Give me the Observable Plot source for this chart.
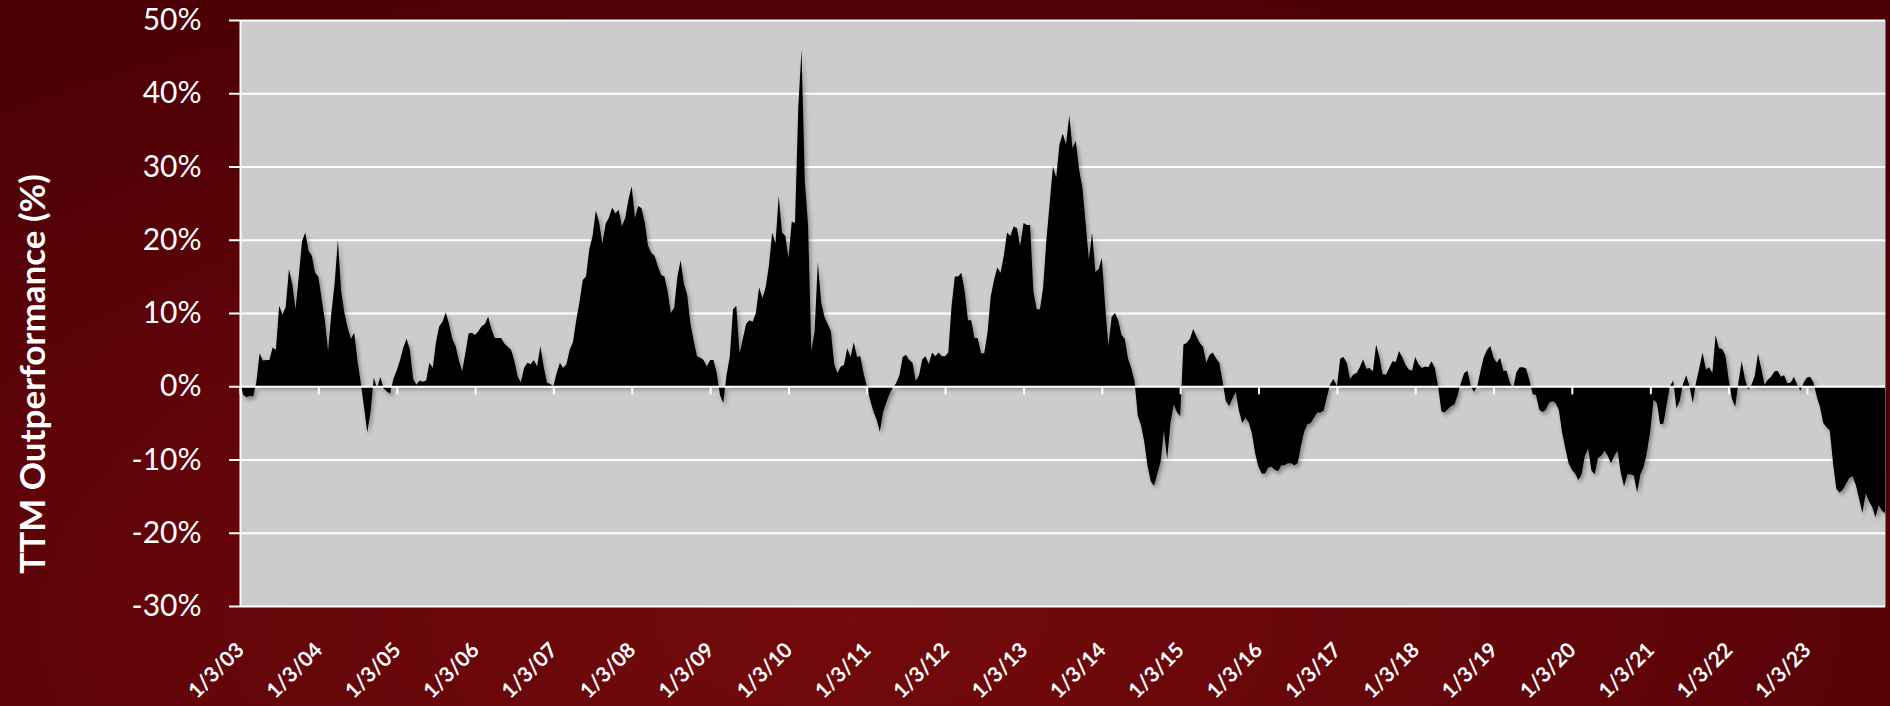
<!DOCTYPE html>
<html>
<head>
<meta charset="utf-8">
<script src="https://cdn.jsdelivr.net/npm/d3@7"></script>
<script src="https://cdn.jsdelivr.net/npm/@observablehq/plot@0.6"></script>
<style>
  html, body { margin: 0; padding: 0; }
  body {
    width: 1890px; height: 706px; overflow: hidden;
    background: radial-gradient(ellipse 75% 95% at 45% 88%, #730a0c 0%, #620509 50%, #4c0006 100%);
  }
  #chart svg { display: block; }
</style>
</head>
<body>
<div id="chart"></div>
<script>
// ---- Data (TTM outperformance, %, read twice a month from 1/3 of each year) ----
const years = [2003,2004,2005,2006,2007,2008,2009,2010,2011,2012,2013,2014,2015,2016,2017,2018,2019,2020,2021,2022,2023];
const v2003 = [0.5,-1.2,-1.5,-1.3,-1.4,0.5,4.5,3.5,3.6,3.6,5.3,5.0,11,9.8,10.8,16,14,10.5,15,19.8,21,18.5,17.8,15.5];
const v2004 = [15,12,9,4.8,10,14,20,13,10,8,6.5,7.3,3.5,0.5,-2.8,-6.3,-3.5,1.2,-0.3,1.3,-0.3,-0.7,-1.0,1.0];
const v2005 = [2.2,3.6,5.3,6.5,5.0,1.0,0.2,0.8,0.6,0.8,3.2,2.5,6.0,8.2,8.8,10.1,8.5,6.5,5.5,3.6,2.0,4.5,7.2,7.3];
const v2006 = [7.0,7.5,8.2,8.5,9.5,7.8,6.6,6.6,6.6,5.8,5.4,5.0,3.5,1.4,0.5,2.5,3.2,3.0,3.6,2.7,5.5,2.7,0.5,0.3];
const v2007 = [0,1.8,3.2,2.5,3.0,5.0,6,9,11.5,14.5,15,18.7,20.5,24,22.4,19.5,22.2,23,24.4,23.6,24.1,21.8,23,25.5];
const v2008 = [27.3,23,24.6,24.3,22.4,19.2,18.2,17.8,16.4,15.2,15,13,10,10.7,14.9,17.2,14,12.5,8.5,6.2,4.1,3.9,3.6,2.7];
const v2009 = [3.6,3.6,1.8,-1.2,-2.3,1.5,4.0,10.5,11,4.5,6.5,8.5,9.0,8.8,10,13.5,12,13.5,16.5,21,19.5,26,21,20.5];
const v2010 = [17.5,22.5,22.3,38,46,28,22,4.8,7.5,17,11.5,9.5,8.5,7.5,3.0,1.8,2.7,2.9,5.2,4.0,6.0,4.0,4.1,1.8];
const v2011 = [0,-1.8,-3.4,-4.5,-6.2,-3.5,-2.2,-1.0,-0.2,0.4,1.5,4.0,4.3,3.6,3.2,0.7,1.5,3.7,4.1,3.0,4.6,4.1,4.6,4.1];
const v2012 = [4.1,4.6,11,15,15,15.5,13,9,9,6.6,6.6,4.5,4.5,7.3,12.3,14.5,16.2,15.5,17.8,21,20.5,21.8,21.6,19.1];
const v2013 = [22.3,22,22,13,10.5,10.5,13.5,20,25,30,28.5,33,34.5,33,37,32.5,33.5,29.6,27.2,22.3,17.3,21,15.6,16];
const v2014 = [17.5,11,5.5,9.5,10,9,7,6.5,3.8,2.5,0.7,-4,-5.3,-7.6,-10.9,-13,-13.6,-11.9,-10.3,-6,-10,-5,-2.5,-3.5];
const v2015 = [-4.1,5.7,5.9,6.5,7.8,6.8,5.9,5.4,3.2,4.3,4.6,3.8,3.2,0.6,-2.0,-2.7,-1.7,-0.8,-3.3,-5,-4.3,-4.9,-6.5,-9.2];
const v2016 = [-11,-11.9,-11.9,-11.1,-11,-11.4,-11.6,-10.8,-10.8,-10.5,-10.5,-10.8,-10.5,-8.2,-6.2,-5.2,-5,-4.3,-3.6,-3.6,-3.3,-1.4,0.3,1.0];
const v2017 = [0,3.8,4.0,3.2,1.0,1.6,1.8,2.6,3.7,2.4,2.5,2.0,5.7,4.0,1.6,1.6,2.5,3.4,3.3,4.8,4.0,2.9,2.3,2.1];
const v2018 = [4.0,3.0,2.5,2.7,2.6,3.4,2.5,0,-3.4,-3.6,-3.1,-2.7,-2.5,-1.2,0.5,1.8,2.1,0,-0.8,0,2.1,4,5,5.5];
const v2019 = [3.9,3.2,3.9,2.1,2.1,0.5,-0.3,1.9,2.6,2.6,2.4,0.8,-1.1,-1.2,-3.2,-3.5,-3.2,-2.3,-2.0,-2.3,-3.2,-6.3,-8.5,-10.5];
const v2020 = [-11.4,-11.9,-12.8,-12,-9.5,-8.5,-11.5,-12,-9.8,-9.5,-8.8,-9.5,-10.5,-9.5,-8.8,-11.8,-13.7,-12,-12,-12.2,-14.5,-12,-11,-9];
const v2021 = [-6,-1.8,-2.3,-5.2,-5.1,-2.5,0,0.8,-3,-2,0.3,1.5,0,-2.3,0.5,2.5,4.6,2.3,2.6,1.8,7,5.2,5.1,4.2];
const v2022 = [1.0,-1.7,-2.8,0.5,3.4,1.0,-0.5,0.2,1.4,4.5,2.4,0.2,0.9,1.3,2.0,2.1,1.3,1.5,0.4,0.5,1.3,0.2,-0.6,0.5];
const v2023 = [1.2,1.3,0.5,-1.4,-2.8,-5.0,-5.6,-6.0,-10.5,-14,-14.5,-14.1,-13.3,-12.5,-12.3,-13.5,-15.4,-17.3,-14.6,-15.7,-16.5,-17.9,-16.2,-17];
const lastDate = "2024-01-02";
const lastValue = -17.3;

const yTicks = [-30, -20, -10, 0, 10, 20, 30, 40, 50];
const tickYears = years; // axis labels 1/3/03 ... 1/3/23
const yTitle = "TTM Outperformance (%)";

// ---- Build table ----
const series = [v2003,v2004,v2005,v2006,v2007,v2008,v2009,v2010,v2011,v2012,v2013,v2014,v2015,v2016,v2017,v2018,v2019,v2020,v2021,v2022,v2023];
const DAY = 86400000;
const data = [];
years.forEach((yr, i) => {
  const n = series[i].length;
  series[i].forEach((v, k) => {
    data.push({date: new Date(Date.UTC(yr, 0, 3) + k * DAY * 365.25 / n), value: v});
  });
});
data.push({date: new Date(lastDate), value: lastValue});

const xTicks = tickYears.map(y => new Date(Date.UTC(y, 0, 3)));
const fmtDate = d => `${d.getUTCMonth() + 1}/${d.getUTCDate()}/${String(d.getUTCFullYear()).slice(2)}`;

const chart = Plot.plot({
  width: 1890,
  height: 706,
  marginLeft: 240,
  marginRight: 5,
  marginTop: 20,
  marginBottom: 100,
  style: {background: "transparent", fontFamily: "Lato, 'Open Sans', sans-serif", color: "white", overflow: "visible"},
  x: {type: "utc", domain: [xTicks[0], new Date(lastDate)]},
  y: {domain: [-30, 50]},
  marks: [
    Plot.frame({fill: "#cccccc", stroke: null}),
    Plot.ruleY(yTicks, {stroke: "white", strokeWidth: 2}),
    Plot.areaY(data, {x: "date", y: "value", fill: "black", curve: "linear"}),
    Plot.ruleY([0], {stroke: "white", strokeWidth: 2}),
    Plot.ruleX(xTicks, {y1: () => 0, y2: () => 0, insetBottom: -8, stroke: "white", strokeWidth: 2}),
    Plot.ruleX([xTicks[0]], {stroke: "white", strokeWidth: 2}),
    Plot.axisY(yTicks, {
      tickFormat: d => `${d}%`, tickSize: 11, tickPadding: 28, strokeWidth: 2,
      fontSize: 30, fill: "white", stroke: "white", label: null
    }),
    Plot.axisX(xTicks, {
      tickFormat: fmtDate, tickRotate: -45, tickSize: 0, tickPadding: 40,
      fontSize: 21, fontWeight: "bold", fill: "white", label: null
    })
  ]
});

document.getElementById("chart").appendChild(chart);

const areaG = chart.querySelector('g[aria-label="area"]');
if (areaG) areaG.style.filter = "drop-shadow(2px 3px 2px rgba(0,0,0,0.35))";

d3.select(chart).append("text")
  .attr("transform", "translate(31,374) rotate(-90)")
  .attr("text-anchor", "middle")
  .attr("dominant-baseline", "central")
  .attr("fill", "white")
  .attr("font-family", "Lato, 'Open Sans', sans-serif")
  .attr("font-weight", "bold")
  .attr("font-size", 35)
  .text(yTitle);
</script>
</body>
</html>
